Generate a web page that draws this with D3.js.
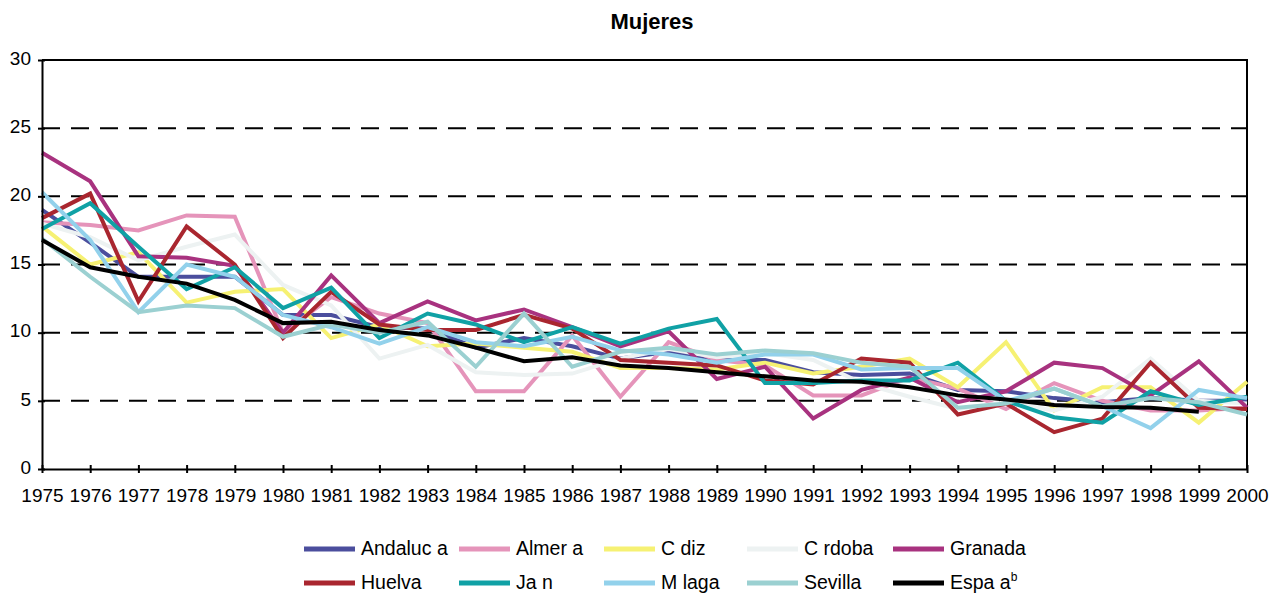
<!DOCTYPE html>
<html>
<head>
<meta charset="utf-8">
<script src="https://cdn.jsdelivr.net/npm/d3@7"></script>
<style>
  body { margin: 0; background: #fff; }
  svg { display: block; font-family: "Liberation Sans", Arial, sans-serif; }
</style>
</head>
<body>
<div id="chart"></div>
<script>
// Data ------------------------------------------------------------------------
const years = d3.range(1975, 2001);
const yTicks = [0, 5, 10, 15, 20, 25, 30];

const seriesNames = [
  "Andaluc a", "Almer a", "C diz", "C rdoba", "Granada",
  "Huelva", "Ja n", "M laga", "Sevilla", "Espa a"
];
const seriesColors = [
  "#4b4e9d", "#e594ba", "#f6f173", "#edf2f2", "#a8327f",
  "#a9262f", "#10a1a5", "#92d1eb", "#9bd0d1", "#000000"
];

const andalucia = [19.0, 16.6, 14.1, 14.1, 14.1, 11.3, 11.3, 10.4, 10.3, 8.9, 9.6, 9.0, 8.1, 8.6, 8.0, 8.0, 7.1, 6.9, 7.0, 5.8, 5.7, 5.2, 4.9, 5.2, 5.0, 5.0];
const almeria = [18.1, 17.9, 17.5, 18.6, 18.5, 10.0, 12.6, 11.4, 10.7, 5.7, 5.7, 9.8, 5.3, 9.3, 8.0, 7.6, 5.4, 5.4, 6.7, 5.9, 4.4, 6.3, 5.0, 4.3, 4.3, 4.5];
const cadiz = [17.8, 15.0, 15.9, 12.2, 13.0, 13.2, 9.6, 10.6, 9.0, 9.2, 8.9, 8.6, 7.4, 7.4, 7.3, 7.8, 7.0, 7.5, 8.1, 6.0, 9.3, 4.3, 6.0, 6.0, 3.4, 6.4];
const cordoba = [18.0, 17.0, 15.3, 16.3, 17.2, 13.5, 12.0, 8.1, 9.1, 7.1, 6.9, 7.0, 8.1, 8.8, 8.2, 8.5, 8.0, 6.3, 5.3, 4.4, 4.9, 4.3, 5.3, 8.1, 5.0, 4.8];
const granada = [23.2, 21.1, 15.6, 15.5, 14.9, 10.0, 14.2, 10.7, 12.3, 10.9, 11.7, 10.4, 9.0, 10.1, 6.6, 7.5, 3.7, 5.8, 6.7, 4.9, 5.7, 7.8, 7.4, 5.4, 7.9, 4.5];
const huelva = [18.4, 20.2, 12.3, 17.8, 15.0, 9.6, 13.0, 10.6, 10.2, 10.2, 11.3, 10.3, 8.0, 7.8, 7.6, 6.5, 6.2, 8.1, 7.8, 4.0, 4.8, 2.7, 3.7, 7.8, 4.5, 4.4];
const jaen = [17.6, 19.5, 16.3, 13.2, 14.8, 11.8, 13.3, 9.6, 11.4, 10.6, 9.3, 10.4, 9.2, 10.3, 11.0, 6.3, 6.3, 6.5, 6.5, 7.8, 5.0, 3.8, 3.4, 5.7, 4.7, 5.3];
const malaga = [20.3, 16.8, 11.5, 15.0, 14.1, 11.3, 10.4, 9.2, 10.4, 9.3, 9.0, 9.7, 8.7, 8.4, 7.8, 8.4, 8.4, 7.3, 7.4, 7.4, 5.0, 5.9, 4.6, 3.0, 5.8, 5.2];
const sevilla = [16.9, 14.1, 11.5, 12.0, 11.8, 9.7, 10.6, 10.0, 10.8, 7.5, 11.4, 7.5, 8.6, 8.9, 8.4, 8.7, 8.5, 7.8, 7.5, 4.5, 4.8, 5.9, 4.6, 5.2, 4.9, 4.0];
const espana = [16.8, 14.8, 14.1, 13.6, 12.4, 10.7, 10.8, 10.2, 9.8, 8.9, 7.9, 8.2, 7.6, 7.4, 7.1, 6.8, 6.5, 6.4, 6.0, 5.4, 5.1, 4.7, 4.55, 4.5, 4.2, null];

const seriesValues = [andalucia, almeria, cadiz, cordoba, granada, huelva, jaen, malaga, sevilla, espana];

// Layout ----------------------------------------------------------------------
const width = 1284;
const height = 599;
const plot = { left: 42, right: 1247, top: 60, bottom: 469 };

const svg = d3.select("#chart")
  .append("svg")
  .attr("width", width)
  .attr("height", height);

const x = d3.scaleLinear().domain([1975, 2000]).range([plot.left, plot.right]);
const y = d3.scaleLinear().domain([0, 30]).range([plot.bottom, plot.top]);

// Title -----------------------------------------------------------------------
svg.append("text")
  .attr("x", 652)
  .attr("y", 29)
  .attr("text-anchor", "middle")
  .style("font-size", "22px")
  .style("font-weight", "bold")
  .text("Mujeres");

// Gridlines -------------------------------------------------------------------
svg.append("g")
  .selectAll("line")
  .data(yTicks.filter(d => d > 0 && d < 30))
  .join("line")
  .attr("x1", plot.left)
  .attr("x2", plot.right)
  .attr("y1", d => y(d))
  .attr("y2", d => y(d))
  .attr("stroke", "#000")
  .attr("stroke-width", 2)
  .attr("stroke-dasharray", "18,11");

// Plot frame (top and right) ---------------------------------------------------
svg.append("path")
  .attr("d", `M${plot.left},${plot.top}H${plot.right}V${plot.bottom}`)
  .attr("fill", "none")
  .attr("stroke", "#000")
  .attr("stroke-width", 2);

// Series lines ----------------------------------------------------------------
const line = d3.line()
  .defined(d => d[1] != null)
  .x(d => x(d[0]))
  .y(d => y(d[1]));

svg.append("g")
  .selectAll("path")
  .data(seriesValues)
  .join("path")
  .attr("d", vals => line(vals.map((v, i) => [years[i], v])))
  .attr("fill", "none")
  .attr("stroke", (d, i) => seriesColors[i])
  .attr("stroke-width", 4)
  .attr("stroke-linejoin", "miter");

// Axes ------------------------------------------------------------------------
const xAxis = svg.append("g")
  .attr("transform", `translate(0,${plot.bottom})`)
  .call(d3.axisBottom(x).tickValues(years).tickFormat(d3.format("d")).tickSizeOuter(0));

xAxis.select(".domain").attr("stroke-width", 2);
xAxis.selectAll(".tick line").attr("y1", -4).attr("y2", 4).attr("stroke-width", 2);
xAxis.selectAll(".tick text")
  .attr("y", 33)
  .attr("dy", null)
  .attr("fill", "#000")
  .style("font-size", "19px")
  .style("font-family", "Liberation Sans, Arial, sans-serif");

const yAxis = svg.append("g")
  .attr("transform", `translate(${plot.left},0)`)
  .call(d3.axisLeft(y).tickValues(yTicks).tickSizeOuter(0));

yAxis.select(".domain").attr("stroke-width", 2);
yAxis.selectAll(".tick line").attr("x1", -4).attr("x2", 3).attr("stroke-width", 2);
yAxis.selectAll(".tick text")
  .attr("x", -11)
  .attr("dy", "0.22em")
  .attr("fill", "#000")
  .style("font-size", "19px")
  .style("font-family", "Liberation Sans, Arial, sans-serif");

// Legend ----------------------------------------------------------------------
const legendCols = [304, 459, 604, 747, 893];
const legendRows = [549, 583];

const legend = svg.append("g")
  .selectAll("g")
  .data(seriesNames)
  .join("g")
  .attr("transform", (d, i) => `translate(${legendCols[i % 5]},${legendRows[Math.floor(i / 5)]})`);

legend.append("line")
  .attr("x1", 0)
  .attr("x2", 51)
  .attr("stroke", (d, i) => seriesColors[i])
  .attr("stroke-width", 5);

const legendText = legend.append("text")
  .attr("x", 57)
  .attr("y", 6)
  .style("font-size", "19.5px")
  .text(d => d);

legendText.filter((d, i) => i === 9)
  .append("tspan")
  .attr("dy", -8)
  .style("font-size", "12px")
  .text("b");
</script>
</body>
</html>
